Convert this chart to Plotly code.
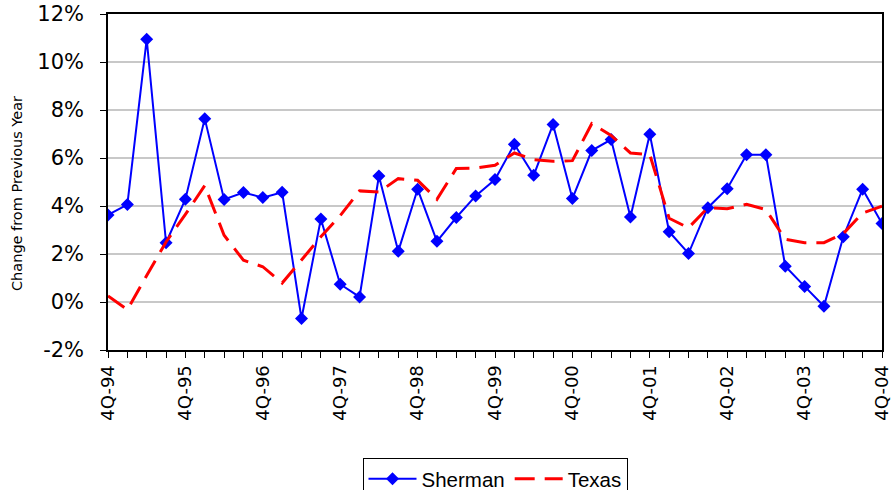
import plotly.graph_objects as go

quarters = []
for yr in range(94, 105):
    for q in (1, 2, 3, 4):
        if (yr == 94 and q < 4) or (yr == 104 and q > 4):
            continue
        quarters.append(f"{q}Q-{yr % 100:02d}")
quarters = quarters[:41]

tick_labels = [q if q.startswith("4Q") else "" for q in quarters]

sherman = [3.63, 4.06, 10.95, 2.47, 4.28, 7.64, 4.27, 4.56, 4.35, 4.57,
           -0.69, 3.46, 0.74, 0.21, 5.25, 2.11, 4.70, 2.53, 3.52, 4.42,
           5.10, 6.57, 5.28, 7.40, 4.31, 6.31, 6.77, 3.54, 6.99, 2.93,
           2.02, 3.93, 4.72, 6.14, 6.14, 1.49, 0.65, -0.18, 2.72, 4.70, 3.27]

texas = [0.25, -0.32, 1.10, 2.50, 3.65, 4.85, 2.78, 1.74, 1.47, 0.79,
         1.75, 2.72, 3.60, 4.63, 4.58, 5.14, 5.07, 4.28, 5.56, 5.58,
         5.70, 6.21, 5.93, 5.86, 5.89, 7.43, 6.94, 6.21, 6.14, 3.49,
         3.09, 3.93, 3.89, 4.07, 3.85, 2.61, 2.47, 2.47, 2.85, 3.71, 3.99]

y_ticks = [-2, 0, 2, 4, 6, 8, 10, 12]
y_tick_text = [f"{v}%" for v in y_ticks]
y_title = "Change from Previous Year"

fig = go.Figure()
fig.add_trace(go.Scatter(
    x=quarters, y=sherman, name="Sherman", mode="lines+markers",
    line=dict(color="#0000FF", width=2),
    marker=dict(symbol="diamond", size=10, color="#0000FF"),
))
fig.add_trace(go.Scatter(
    x=quarters, y=texas, name="Texas", mode="lines",
    line=dict(color="#FF0000", width=3, dash="20px,10px"),
))

fig.add_annotation(
    text=y_title, textangle=-90, showarrow=False,
    xref="paper", yref="paper",
    x=(17 - 108) / 774, y=(350 - 194) / 336,
    xanchor="center", yanchor="middle",
    font=dict(family="DejaVu Sans", size=14.5, color="black"),
)

fig.update_layout(
    width=893, height=490,
    margin=dict(l=108, r=11, t=14, b=140, autoexpand=False),
    paper_bgcolor="white", plot_bgcolor="white",
    font=dict(family="DejaVu Sans", color="black"),
    showlegend=True,
    legend=dict(
        orientation="h", x=0.5, xanchor="center",
        y=(350 - 458) / 336, yanchor="top",
        bordercolor="black", borderwidth=1,
        font=dict(family="Liberation Sans", size=20.5),
        itemwidth=48, tracegroupgap=0,
    ),
    xaxis=dict(
        type="category", range=[0, 40], automargin=False,
        tickmode="array", tickvals=quarters, ticktext=tick_labels,
        tickangle=-90, ticks="outside", ticklen=6, tickcolor="black",
        tickfont=dict(family="DejaVu Sans", size=18),
        showline=True, linecolor="black", linewidth=2, mirror=True,
        showgrid=False, zeroline=False,
    ),
    yaxis=dict(
        range=[-2, 12], tickvals=y_ticks, ticktext=y_tick_text,
        automargin=False,
        ticks="outside", ticklen=6, tickcolor="black",
        tickfont=dict(family="DejaVu Sans", size=21),
        ticklabelstandoff=12,
        showline=True, linecolor="black", linewidth=1.5, mirror=True,
        showgrid=True, gridcolor="#C8C8C8", gridwidth=1.5,
        zeroline=False,
    ),
)

fig.write_html(
    "out.html",
    config={"displayModeBar": False},
    post_script="document.body.style.margin='0';document.body.style.overflow='hidden';",
)
